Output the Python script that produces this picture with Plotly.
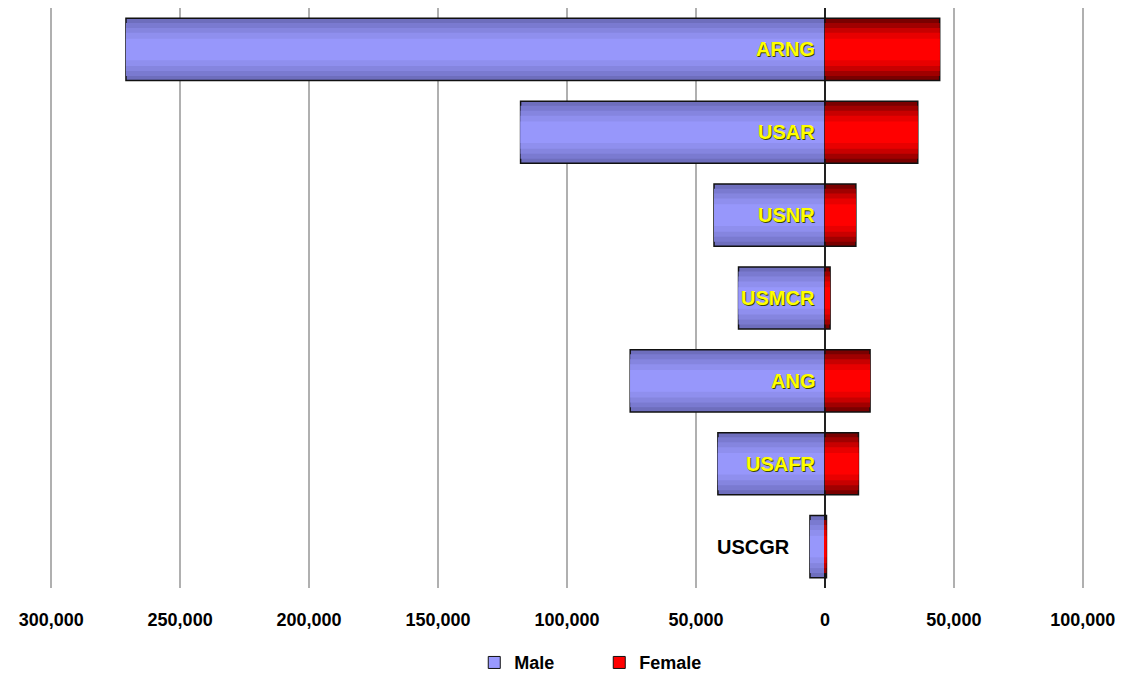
import plotly.graph_objects as go

categories = ["ARNG", "USAR", "USNR", "USMCR", "ANG", "USAFR", "USCGR"]
male = [271000, 118000, 43000, 33500, 75500, 41500, 5800]
female = [44500, 36000, 12000, 2000, 17500, 13000, 600]
tick_vals = [-300000, -250000, -200000, -150000, -100000, -50000, 0, 50000, 100000]
tick_text = ["300,000", "250,000", "200,000", "150,000", "100,000", "50,000", "0", "50,000", "100,000"]

male_neg = [-v for v in male]

FONT = "Liberation Sans Narrow, Arial Narrow, Liberation Sans, sans-serif"

# gradient layers (width, color) from outer to inner
male_layers = [(0.75, "#6E6EBD"), (0.64, "#7A7AD0"), (0.52, "#8585DF"), (0.40, "#8F8FEE"), (0.26, "#9797FB")]
female_layers = [(0.75, "#7A0000"), (0.64, "#A00000"), (0.52, "#C80000"), (0.40, "#E80000"), (0.26, "#FF0000")]

fig = go.Figure()
for i, (w, c) in enumerate(male_layers):
    fig.add_trace(go.Bar(
        y=categories, x=male_neg, orientation="h", width=w,
        marker=dict(color=c, line=dict(color="#111111", width=1.5 if i == 0 else 0)),
        showlegend=False, hoverinfo="skip"))
for i, (w, c) in enumerate(female_layers):
    fig.add_trace(go.Bar(
        y=categories, x=female, orientation="h", width=w,
        marker=dict(color=c, line=dict(color="#111111", width=1.5 if i == 0 else 0)),
        showlegend=False, hoverinfo="skip"))

# legend entries
fig.add_trace(go.Bar(y=[None], x=[None], orientation="h", name="Male",
                     marker=dict(color="#9999FF", line=dict(color="#111111", width=1))))
fig.add_trace(go.Bar(y=[None], x=[None], orientation="h", name="Female",
                     marker=dict(color="#FF0000", line=dict(color="#111111", width=1))))

for cat, m in zip(categories, male):
    inside = m > 20000
    fig.add_annotation(
        x=0, y=cat, xref="x", yref="y", text=cat, showarrow=False,
        xanchor="right", xshift=-8 if inside else -33, yshift=0,
        font=dict(family=FONT, size=20,
                  color="#FFFF00" if inside else "#000000", weight="bold",
                  shadow="1px 1px 0px #3A4A00" if inside else "none"))

fig.update_layout(
    width=1109, height=667,
    barmode="overlay",
    plot_bgcolor="white", paper_bgcolor="white",
    margin=dict(l=38, r=29, t=0, b=87, autoexpand=False),
    xaxis=dict(range=[-302000, 102000], tickvals=tick_vals, ticktext=tick_text,
               automargin=False,
               showgrid=True, gridcolor="#B0B0B0", gridwidth=1.5,
               zeroline=True, zerolinecolor="#222222", zerolinewidth=1.5,
               ticks="", showline=False, ticklabelstandoff=19,
               tickfont=dict(family=FONT, size=18, color="#000000", weight="bold")),
    yaxis=dict(categoryorder="array", categoryarray=categories[::-1], showticklabels=False,
               automargin=False, range=[-0.5, 6.5],
               showgrid=False, zeroline=False, ticks="", showline=False),
    legend=dict(orientation="h", x=0.411, xanchor="left", y=-0.097, yanchor="top",
                font=dict(family=FONT, size=18, color="#000000", weight="bold"),
                itemwidth=30, entrywidth=80, traceorder="normal"),
)

fig.write_html("out.html")
